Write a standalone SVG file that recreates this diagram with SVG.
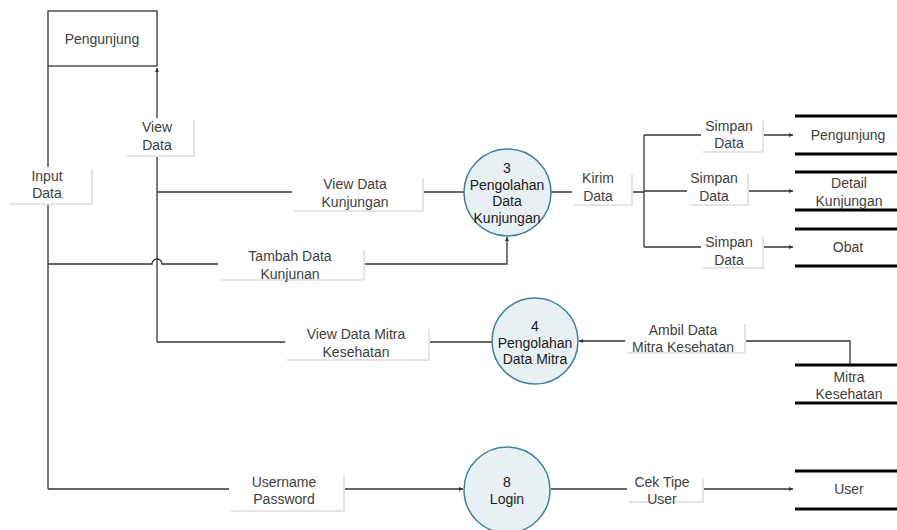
<svg xmlns="http://www.w3.org/2000/svg" width="897" height="530" viewBox="0 0 897 530">
<defs>
<style>
.ln{fill:none;stroke:#333;stroke-width:1.3}
.lbl rect.s{fill:#e4e4e4}
.lbl rect.w{fill:#fff}
.lt{font-family:"Liberation Sans",Arial,sans-serif;font-size:14px;fill:#404040;text-anchor:middle}
.ct{font-family:"Liberation Sans",Arial,sans-serif;font-size:14px;fill:#1a1a1a;text-anchor:middle}
.proc{fill:#e8f0f4;stroke:#3f8099;stroke-width:1.5}
.store{stroke:#000;stroke-width:3.2}
</style>
<marker id="ar" viewBox="0 0 6 6" refX="6" refY="3" markerWidth="4" markerHeight="4" markerUnits="userSpaceOnUse" orient="auto"><path d="M0,0 L6,3 L0,6 z" fill="#333"/></marker>
</defs>
<rect width="897" height="530" fill="#fff"/>
<g id="connectors">
<path class="ln" d="M48,66 V489"/>
<path class="ln" d="M157,342 V68" marker-end="url(#ar)"/>
<path class="ln" d="M157,192 H464"/>
<path class="ln" d="M48,264 H152 A5,5 0 0 1 162,264 H507 V237" marker-end="url(#ar)"/>
<path class="ln" d="M551,192 H644"/>
<path class="ln" d="M644,135 V247"/>
<path class="ln" d="M644,135 H793" marker-end="url(#ar)"/>
<path class="ln" d="M644,191 H793" marker-end="url(#ar)"/>
<path class="ln" d="M644,247 H793" marker-end="url(#ar)"/>
<path class="ln" d="M850,365 V341 H579" marker-end="url(#ar)"/>
<path class="ln" d="M492,342 H157"/>
<path class="ln" d="M48,489 H463" marker-end="url(#ar)"/>
<path class="ln" d="M551,489 H793" marker-end="url(#ar)"/>
<g class="lbl">
<rect class="s" x="9" y="169" width="84" height="36"/><rect class="w" x="7" y="167" width="84" height="36"/>
<text class="lt" x="47" y="181">Input</text><text class="lt" x="47" y="198">Data</text>
</g>
<g class="lbl">
<rect class="s" x="126" y="120" width="69" height="37"/><rect class="w" x="124" y="118" width="69" height="37"/>
<text class="lt" x="157" y="132">View</text><text class="lt" x="157" y="150">Data</text>
</g>
<g class="lbl">
<rect class="s" x="294" y="178" width="130" height="34"/><rect class="w" x="292" y="176" width="130" height="34"/>
<text class="lt" x="355" y="189">View Data</text><text class="lt" x="355" y="207">Kunjungan</text>
</g>
<g class="lbl">
<rect class="s" x="220" y="250" width="145" height="31"/><rect class="w" x="218" y="248" width="145" height="31"/>
<text class="lt" x="290" y="261">Tambah Data</text><text class="lt" x="290" y="279">Kunjunan</text>
</g>
<g class="lbl">
<rect class="s" x="574" y="174" width="59" height="32"/><rect class="w" x="572" y="172" width="59" height="32"/>
<text class="lt" x="598" y="183">Kirim</text><text class="lt" x="598" y="201">Data</text>
</g>
<g class="lbl">
<rect class="s" x="703" y="120" width="61" height="33"/><rect class="w" x="701" y="118" width="61" height="33"/>
<text class="lt" x="729" y="131">Simpan</text><text class="lt" x="729" y="148">Data</text>
</g>
<g class="lbl">
<rect class="s" x="689" y="174" width="60" height="32"/><rect class="w" x="687" y="172" width="60" height="32"/>
<text class="lt" x="714" y="183">Simpan</text><text class="lt" x="714" y="201">Data</text>
</g>
<g class="lbl">
<rect class="s" x="703" y="237" width="61" height="32"/><rect class="w" x="701" y="235" width="61" height="32"/>
<text class="lt" x="729" y="247">Simpan</text><text class="lt" x="729" y="265">Data</text>
</g>
<g class="lbl">
<rect class="s" x="287" y="329" width="143" height="32"/><rect class="w" x="285" y="327" width="143" height="32"/>
<text class="lt" x="356" y="339">View Data Mitra</text><text class="lt" x="356" y="357">Kesehatan</text>
</g>
<g class="lbl">
<rect class="s" x="627" y="324" width="119" height="30"/><rect class="w" x="625" y="322" width="119" height="30"/>
<text class="lt" x="683" y="335">Ambil Data</text><text class="lt" x="683" y="352">Mitra Kesehatan</text>
</g>
<g class="lbl">
<rect class="s" x="231" y="475" width="114" height="37"/><rect class="w" x="229" y="473" width="114" height="37"/>
<text class="lt" x="284" y="487">Username</text><text class="lt" x="284" y="504">Password</text>
</g>
<g class="lbl">
<rect class="s" x="629" y="478" width="75" height="25"/><rect class="w" x="627" y="476" width="75" height="25"/>
<text class="lt" x="662" y="487">Cek Tipe</text><text class="lt" x="662" y="504">User</text>
</g>
</g>
<g id="ext-pengunjung">
<rect x="48" y="11" width="109" height="55" fill="#fff" stroke="#333" stroke-width="1.3"/>
<text class="lt" x="102" y="44">Pengunjung</text>
</g>
<g id="proc-3">
<circle class="proc" cx="507.5" cy="192.5" r="43.5"/>
<text class="ct" x="507" y="173">3</text>
<text class="ct" x="507" y="190">Pengolahan</text>
<text class="ct" x="507" y="206">Data</text>
<text class="ct" x="507" y="223">Kunjungan</text>
</g>
<g id="proc-4">
<circle class="proc" cx="535" cy="341" r="43"/>
<text class="ct" x="535" y="331">4</text>
<text class="ct" x="535" y="348">Pengolahan</text>
<text class="ct" x="535" y="364">Data Mitra</text>
</g>
<g id="proc-8">
<circle class="proc" cx="507" cy="490" r="43"/>
<text class="ct" x="507" y="487">8</text>
<text class="ct" x="507" y="504">Login</text>
</g>
<g id="ds-pengunjung">
<line class="store" x1="795" y1="116" x2="897" y2="116"/><line class="store" x1="795" y1="154" x2="897" y2="154"/>
<text class="lt" x="848" y="140">Pengunjung</text>
</g>
<g id="ds-detail">
<line class="store" x1="795" y1="172" x2="897" y2="172"/><line class="store" x1="795" y1="210" x2="897" y2="210"/>
<rect x="815" y="174" width="68" height="34" fill="#fff"/>
<text class="lt" x="849" y="188">Detail</text><text class="lt" x="849" y="206">Kunjungan</text>
</g>
<g id="ds-obat">
<line class="store" x1="795" y1="229" x2="897" y2="229"/><line class="store" x1="795" y1="266" x2="897" y2="266"/>
<text class="lt" x="848" y="252">Obat</text>
</g>
<g id="ds-mitra">
<line class="store" x1="795" y1="365" x2="897" y2="365"/><line class="store" x1="795" y1="403" x2="897" y2="403"/>
<rect x="823" y="368" width="52" height="12" fill="#fff"/>
<text class="lt" x="849" y="382">Mitra</text><text class="lt" x="849" y="399">Kesehatan</text>
</g>
<g id="ds-user">
<line class="store" x1="795" y1="471" x2="897" y2="471"/><line class="store" x1="795" y1="509" x2="897" y2="509"/>
<text class="lt" x="849" y="494">User</text>
</g>
</svg>
